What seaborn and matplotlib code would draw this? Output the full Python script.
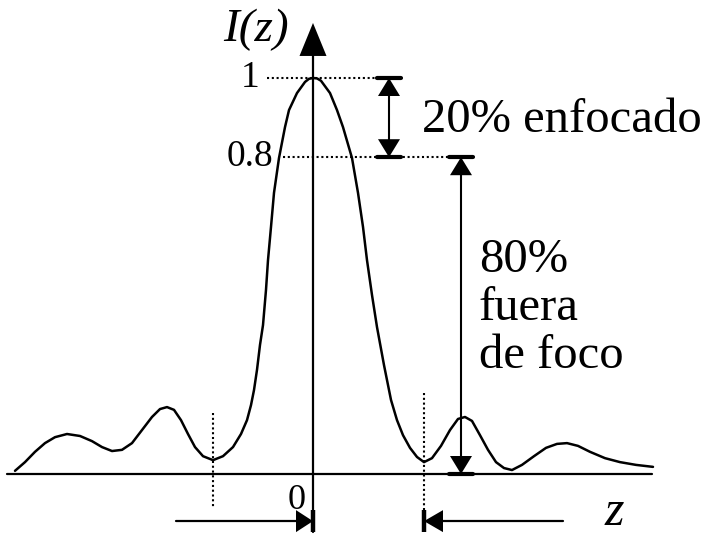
import matplotlib
matplotlib.use("Agg")
import matplotlib.pyplot as plt
import numpy as np
import pandas as pd
import seaborn as sns

# Intensity profile I(z) along the optical axis (z in arbitrary units, I normalised)
z_vals = [-2.98, -2.88, -2.78, -2.68, -2.58, -2.46, -2.33, -2.21, -2.11, -2.01,
          -1.91, -1.81, -1.71, -1.61, -1.53, -1.46, -1.39, -1.32, -1.25, -1.18,
          -1.10, -1.00, -0.90, -0.80, -0.72, -0.66, -0.62, -0.59, -0.56, -0.53,
          -0.50, -0.47, -0.45, -0.42, -0.39, -0.34, -0.28, -0.24, -0.16, -0.08,
          -0.04, 0.00, 0.04, 0.08, 0.17, 0.24, 0.30, 0.39, 0.45, 0.50, 0.54, 0.59,
          0.64, 0.71, 0.78, 0.84, 0.90, 0.97, 1.04, 1.11, 1.19, 1.28,
          1.37, 1.45, 1.52, 1.59, 1.67, 1.75, 1.83, 1.91, 1.99, 2.09,
          2.21, 2.33, 2.44, 2.54, 2.65, 2.77, 2.92, 3.07, 3.23, 3.40]
i_vals = [0.008, 0.030, 0.056, 0.078, 0.093, 0.101, 0.096, 0.083, 0.068, 0.058,
          0.061, 0.078, 0.111, 0.144, 0.164, 0.169, 0.162, 0.136, 0.101, 0.068,
          0.045, 0.035, 0.045, 0.068, 0.101, 0.136, 0.174, 0.212, 0.263, 0.326,
          0.376, 0.465, 0.540, 0.624, 0.710, 0.798, 0.876, 0.919, 0.962, 0.990,
          0.998, 1.000, 0.999, 0.993, 0.962, 0.919, 0.876, 0.798, 0.710, 0.624, 0.540, 0.452,
          0.371, 0.275, 0.187, 0.136, 0.098, 0.066, 0.043, 0.030, 0.040, 0.071,
          0.111, 0.139, 0.144, 0.134, 0.098, 0.061, 0.030, 0.015, 0.010, 0.023,
          0.045, 0.066, 0.076, 0.078, 0.071, 0.056, 0.040, 0.030, 0.023, 0.018]

# Reference levels
peak_level = 1.0
focus_level = 0.8
level_labels = ["1", "0.8"]

# Minima bounding the central lobe
lobe_left = -1.00
lobe_right = 1.11

# Annotation texts
ylabel_text = "I(z)"
xlabel_text = "z"
origin_text = "0"
focused_text = "20% enfocado"
unfocused_lines = ["80%", "fuera", "de foco"]

df = pd.DataFrame({"z": z_vals, "I": i_vals})

sns.set_style("white")
plt.rcParams["font.family"] = ["Liberation Serif", "DejaVu Serif"]
plt.rcParams["text.color"] = "black"

fig = plt.figure(figsize=(7.07, 5.38), dpi=100)
ax = fig.add_axes([0, 0, 1, 1])
XMIN, XMAX = -3.13, 3.94
YMIN, YMAX = -64 / 396, 474 / 396
ax.set_xlim(XMIN, XMAX)
ax.set_ylim(YMIN, YMAX)
ax.axis("off")

# scale of one pixel in data units
ZP = (XMAX - XMIN) / 707
IP = (YMAX - YMIN) / 538

K = "black"


def head(tip_x, tip_y, direction, length, width):
    """Filled triangular arrow head; length/width in pixels."""
    if direction == "up":
        xs = [tip_x, tip_x - width / 2 * ZP, tip_x + width / 2 * ZP]
        ys = [tip_y, tip_y - length * IP, tip_y - length * IP]
    elif direction == "down":
        xs = [tip_x, tip_x - width / 2 * ZP, tip_x + width / 2 * ZP]
        ys = [tip_y, tip_y + length * IP, tip_y + length * IP]
    elif direction == "right":
        xs = [tip_x, tip_x - length * ZP, tip_x - length * ZP]
        ys = [tip_y, tip_y - width / 2 * IP, tip_y + width / 2 * IP]
    else:
        xs = [tip_x, tip_x + length * ZP, tip_x + length * ZP]
        ys = [tip_y, tip_y - width / 2 * IP, tip_y + width / 2 * IP]
    ax.fill(xs, ys, color=K, lw=0, zorder=5)


# axes
ax.plot([-3.06, 3.39], [0, 0], color=K, lw=1.6)
axis_top = 1.139
axis_bottom = -0.146
ax.plot([0, 0], [axis_bottom, axis_top - 30 * IP], color=K, lw=1.6)
head(0, axis_top, "up", 33, 27)

# intensity curve
sns.lineplot(data=df, x="z", y="I", ax=ax, color=K, lw=1.8, sort=False,
             estimator=None)

dots = (0, (1.0, 1.3))

# horizontal dotted reference levels
dim20_x = 0.76
dim80_x = 1.48
ax.plot([-0.46, dim20_x - 11 * ZP], [peak_level, peak_level], color=K, lw=1.5, ls=dots)
ax.plot([-0.30, dim80_x - 11 * ZP], [focus_level, focus_level], color=K, lw=1.5, ls=dots)

# vertical dotted lines at the lobe minima
ax.plot([lobe_left, lobe_left], [0.154, -0.086], color=K, lw=1.5, ls=dots)
ax.plot([lobe_right, lobe_right], [0.205, -0.092], color=K, lw=1.5, ls=dots)

# 20 % dimension arrow
bar_half = 12
for lvl in (peak_level, focus_level):
    ax.plot([dim20_x - bar_half * ZP, dim20_x + bar_half * ZP], [lvl, lvl], color=K, lw=3)
ax.plot([dim20_x, dim20_x], [peak_level, focus_level], color=K, lw=1.5)
head(dim20_x, peak_level, "up", 18, 22)
head(dim20_x, focus_level, "down", 18, 22)

# 80 % dimension arrow
for lvl in (focus_level, 0.0):
    ax.plot([dim80_x - bar_half * ZP, dim80_x + bar_half * ZP], [lvl, lvl], color=K, lw=3)
ax.plot([dim80_x, dim80_x], [focus_level, 0.0], color=K, lw=1.5)
head(dim80_x, focus_level, "up", 18, 22)
head(dim80_x, 0.0, "down", 18, 22)

# bottom arrows marking the central lobe width
arrow_y = -0.119
bar_lo, bar_hi = -0.092, -0.146
ax.plot([-1.37, 0 - 10 * ZP], [arrow_y, arrow_y], color=K, lw=1.6)
head(0, arrow_y, "right", 17, 22)
ax.plot([0, 0], [bar_lo, bar_hi], color=K, lw=3.2, solid_capstyle="butt")
ax.plot([2.50, lobe_right + 10 * ZP], [arrow_y, arrow_y], color=K, lw=1.6)
head(lobe_right, arrow_y, "left", 19, 22)
ax.plot([lobe_right, lobe_right], [bar_lo, bar_hi], color=K, lw=3.2, solid_capstyle="butt")

# texts
big = 35
ax.text(-0.90, 1.093, ylabel_text, fontsize=34, style="italic", ha="left",
        va="baseline")
ax.text(-0.53, peak_level, level_labels[0], fontsize=27, ha="right", va="center")
ax.text(-0.40, focus_level, level_labels[1], fontsize=27, ha="right", va="center")
ax.text(-0.165, -0.088, origin_text, fontsize=26, ha="center", va="baseline")
ax.text(2.92, -0.128, xlabel_text, fontsize=36, style="italic", ha="left",
        va="baseline")
ax.text(1.09, 0.864, focused_text, fontsize=big, ha="left", va="baseline")
for line, base in zip(unfocused_lines, [0.510, 0.389, 0.268]):
    ax.text(1.66, base, line, fontsize=big, ha="left", va="baseline")

fig.savefig("out.png", dpi=100)
